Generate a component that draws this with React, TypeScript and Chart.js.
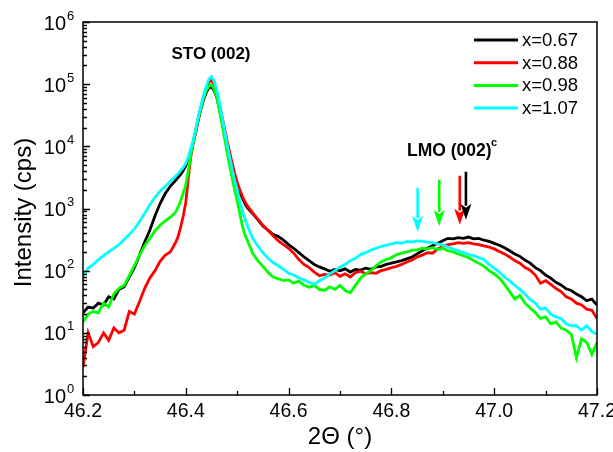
import React, { useEffect, useRef } from "react";
import { Chart, registerables } from "chart.js";

Chart.register(...registerables);

// 2Θ positions (degrees)
const twoTheta = [
  46.2, 46.21, 46.22, 46.23, 46.24, 46.25, 46.26, 46.27, 46.28, 46.29,
  46.3, 46.31, 46.32, 46.33, 46.34, 46.35, 46.36, 46.37, 46.38,
  46.385, 46.39, 46.395, 46.4, 46.405, 46.41, 46.415, 46.42, 46.425, 46.43,
  46.435, 46.44, 46.445, 46.45, 46.455, 46.46, 46.465, 46.47, 46.475, 46.48,
  46.485, 46.49, 46.495, 46.5, 46.505, 46.51, 46.515, 46.52,
  46.53, 46.54, 46.55, 46.56, 46.57, 46.58, 46.59, 46.6, 46.61, 46.62,
  46.63, 46.64, 46.65, 46.66, 46.67, 46.68, 46.69, 46.7, 46.71, 46.72,
  46.73, 46.74, 46.75, 46.76, 46.77, 46.78, 46.79, 46.8, 46.81, 46.82,
  46.83, 46.84, 46.85, 46.86, 46.87, 46.88, 46.89, 46.9, 46.91, 46.92,
  46.93, 46.94, 46.95, 46.96, 46.97, 46.98, 46.99, 47.0, 47.01, 47.02,
  47.03, 47.04, 47.05, 47.06, 47.07, 47.08, 47.09, 47.1, 47.11, 47.12,
  47.13, 47.14, 47.15, 47.16, 47.17, 47.18, 47.19, 47.2,
];

// Intensity (cps), x = 0.67
const series067 = [
  21, 26, 25, 30, 28, 38, 35, 50, 55, 79, 112, 178, 290, 447, 759, 1200, 1740, 2290, 2820,
  3160, 3550, 4070, 4900, 6310, 8910, 12000, 17800, 28200, 41700,
  57500, 74100, 87100, 91200, 79400, 63100, 41700, 26300, 16600, 10500,
  6920, 4790, 3310, 2400, 1820, 1480, 1200, 1020,
  832, 661, 525, 447, 380, 355, 309, 263, 229, 195,
  166, 145, 126, 115, 107, 98, 105, 100, 107, 95,
  105, 102, 110, 105, 115, 117, 126, 132, 138, 145,
  155, 166, 186, 209, 229, 251, 275, 302, 331, 324,
  339, 331, 347, 324, 331, 309, 295, 275, 257, 234,
  209, 186, 170, 148, 132, 112, 100, 85, 76, 65,
  59, 51, 48, 42, 38, 33, 35, 28,
];

// Intensity (cps), x = 0.88
const series088 = [
  2.8, 10, 6, 7, 10, 7.6, 12, 10, 11, 22, 20, 32, 52, 76, 100, 141, 178, 200, 282,
  355, 501, 759, 1260, 3160, 7080, 12000, 19100, 30200, 44700,
  63100, 85100, 107000, 117000, 100000, 75900, 50100, 31600, 20000, 12600,
  8320, 5500, 3720, 2630, 2000, 1590, 1290, 1100,
  851, 676, 537, 447, 363, 302, 263, 229, 191, 151,
  126, 112, 95, 83, 87, 85, 93, 81, 89, 79,
  93, 98, 89, 93, 91, 100, 105, 112, 117, 126,
  138, 148, 166, 178, 195, 191, 224, 245, 263, 269,
  282, 275, 282, 269, 263, 251, 240, 224, 204, 186,
  166, 145, 132, 112, 102, 85, 63, 69, 60, 52,
  46, 38, 35, 30, 28, 24, 23, 17,
];

// Intensity (cps), x = 0.98
const series098 = [
  15, 20, 22, 21, 30, 26, 42, 52, 58, 83, 120, 178, 251, 331, 437, 537, 631, 724, 871,
  1050, 1320, 1780, 2400, 4170, 7590, 12000, 19100, 30200, 43700,
  61700, 79400, 93300, 97700, 83200, 63100, 39800, 24000, 14100, 8320,
  5010, 3160, 2000, 1320, 832, 525, 380, 302,
  191, 145, 117, 93, 79, 74, 69, 71, 63, 68,
  58, 54, 58, 50, 48, 55, 50, 58, 48, 44,
  58, 76, 89, 100, 120, 138, 151, 162, 182, 191,
  200, 214, 214, 229, 224, 234, 219, 229, 209, 200,
  186, 174, 162, 145, 132, 117, 100, 89, 76, 60,
  46, 35, 40, 30, 25, 21, 17, 18, 14, 15,
  12, 11, 9.5, 4, 8, 7, 4.5, 7,
];

// Intensity (cps), x = 1.07
const series107 = [
  83, 110, 126, 151, 174, 200, 229, 263, 316, 380, 468, 617, 832, 1150, 1510, 1900, 2290, 2750, 3310,
  3630, 4070, 4570, 5370, 6760, 9330, 13200, 20000, 31600, 46800,
  67600, 93300, 120000, 132000, 112000, 83200, 52500, 31600, 18600, 11200,
  6920, 4370, 2820, 2000, 1320, 912, 692, 525,
  331, 251, 195, 158, 135, 120, 105, 91, 85, 76,
  71, 65, 60, 69, 76, 89, 100, 115, 126, 145,
  158, 182, 195, 214, 229, 245, 257, 269, 282, 275,
  295, 288, 302, 295, 288, 282, 269, 257, 240, 224,
  209, 195, 182, 174, 162, 151, 126, 110, 95, 79,
  69, 58, 50, 42, 34, 30, 24, 25, 20, 18,
  17, 14, 13, 13, 11, 13, 10.5, 9.5,
];

const seriesLabels = ["x=0.67", "x=0.88", "x=0.98", "x=1.07"];
const seriesColors = ["#000000", "#ff0000", "#00ff00", "#00ffff"];
const seriesValues = [series067, series088, series098, series107];

const xTickValues = [46.2, 46.4, 46.6, 46.8, 47.0, 47.2];
const xTickLabels = ["46.2", "46.4", "46.6", "46.8", "47.0", "47.2"];
const xMinorTicks = [46.3, 46.5, 46.7, 46.9, 47.1];
const yTickExponents = [0, 1, 2, 3, 4, 5, 6];

// LMO (002) peak-position arrows (per series)
const arrowX = [46.945, 46.933, 46.893, 46.851];
const arrowTop = [3900, 3370, 2900, 2150];
const arrowTip = [660, 550, 525, 420];

const FONT = "'Liberation Sans', Arial, sans-serif";

const overlay = {
  id: "overlay",
  afterDatasetsDraw(chart: any) {
    const { ctx, chartArea: a, scales } = chart;
    const sx = scales.x;
    const sy = scales.y;
    ctx.save();

    // arrows
    const order = [3, 2, 1, 0];
    for (const i of order) {
      const x = sx.getPixelForValue(arrowX[i]);
      const yTop = sy.getPixelForValue(arrowTop[i]);
      const yTip = sy.getPixelForValue(arrowTip[i]);
      const headLen = 16;
      const headW = 5.5;
      ctx.strokeStyle = seriesColors[i];
      ctx.fillStyle = seriesColors[i];
      ctx.lineWidth = 2.6;
      ctx.beginPath();
      ctx.moveTo(x, yTop);
      ctx.lineTo(x, yTip - headLen + 2);
      ctx.stroke();
      ctx.beginPath();
      ctx.moveTo(x - headW, yTip - headLen);
      ctx.lineTo(x, yTip - headLen + 4);
      ctx.lineTo(x + headW, yTip - headLen);
      ctx.lineTo(x, yTip);
      ctx.closePath();
      ctx.fill();
    }

    // frame
    ctx.strokeStyle = "#000";
    ctx.lineWidth = 1.5;
    ctx.strokeRect(a.left, a.top, a.right - a.left, a.bottom - a.top);

    // x ticks (inward)
    ctx.lineWidth = 1.3;
    ctx.beginPath();
    for (const v of xTickValues) {
      const px = Math.round(sx.getPixelForValue(v)) + 0.5;
      ctx.moveTo(px, a.bottom);
      ctx.lineTo(px, a.bottom - 7);
    }
    for (const v of xMinorTicks) {
      const px = Math.round(sx.getPixelForValue(v)) + 0.5;
      ctx.moveTo(px, a.bottom);
      ctx.lineTo(px, a.bottom - 4);
    }
    // y ticks (inward)
    for (const e of yTickExponents) {
      const py = Math.round(sy.getPixelForValue(Math.pow(10, e))) + 0.5;
      ctx.moveTo(a.left, py);
      ctx.lineTo(a.left + 7, py);
      if (e < 6) {
        for (let m = 2; m <= 9; m++) {
          const pm = Math.round(sy.getPixelForValue(m * Math.pow(10, e))) + 0.5;
          ctx.moveTo(a.left, pm);
          ctx.lineTo(a.left + 4, pm);
        }
      }
    }
    ctx.stroke();

    // x tick labels
    ctx.fillStyle = "#000";
    ctx.font = `19.5px ${FONT}`;
    ctx.textAlign = "center";
    ctx.textBaseline = "middle";
    xTickValues.forEach((v, i) => {
      ctx.fillText(xTickLabels[i], sx.getPixelForValue(v), a.bottom + 17);
    });

    // y tick labels 10^n
    for (const e of yTickExponents) {
      const py = sy.getPixelForValue(Math.pow(10, e));
      ctx.font = `20px ${FONT}`;
      ctx.textAlign = "right";
      ctx.textBaseline = "middle";
      ctx.fillText("10", a.left - 17, py + 2);
      ctx.font = `13px ${FONT}`;
      ctx.textAlign = "left";
      ctx.fillText(String(e), a.left - 16, py - 6);
    }

    // axis titles
    ctx.font = `24px ${FONT}`;
    ctx.textAlign = "center";
    ctx.textBaseline = "alphabetic";
    ctx.fillText("2\u0398 (\u00b0)", (a.left + a.right) / 2, 444);
    ctx.save();
    ctx.translate(31, (a.top + a.bottom) / 2 + 4);
    ctx.rotate(-Math.PI / 2);
    ctx.fillText("Intensity (cps)", 0, 0);
    ctx.restore();

    // annotations
    ctx.font = `bold 17px ${FONT}`;
    ctx.textAlign = "center";
    ctx.textBaseline = "middle";
    ctx.fillText("STO (002)", 211, 54);
    ctx.textAlign = "left";
    ctx.font = `bold 17.5px ${FONT}`;
    ctx.fillText("LMO (002)", 407, 151);
    ctx.font = `bold 11px ${FONT}`;
    ctx.fillText("c", 491, 143);

    // legend
    ctx.font = `18.5px ${FONT}`;
    ctx.textBaseline = "middle";
    ctx.textAlign = "left";
    const rows = [40, 62.7, 85.4, 108.1];
    seriesLabels.forEach((lab, i) => {
      ctx.strokeStyle = seriesColors[i];
      ctx.lineWidth = 3;
      ctx.beginPath();
      ctx.moveTo(474, rows[i]);
      ctx.lineTo(518, rows[i]);
      ctx.stroke();
      ctx.fillStyle = "#000";
      ctx.fillText(lab, 522, rows[i] + 1);
    });

    ctx.restore();
  },
};

export default function App() {
  const canvasRef = useRef<HTMLCanvasElement | null>(null);

  useEffect(() => {
    document.body.style.margin = "0";
    const canvas = canvasRef.current;
    if (!canvas) return;
    const datasets = seriesValues.map((vals, i) => ({
      label: seriesLabels[i],
      data: twoTheta.map((x, j) => ({ x, y: vals[j] })),
      borderColor: seriesColors[i],
      backgroundColor: seriesColors[i],
      borderWidth: 2.8,
      pointRadius: 0,
      tension: 0,
      fill: false,
      order: 4 - i,
    }));
    const chart = new Chart(canvas, {
      type: "line",
      data: { datasets },
      options: {
        animation: false,
        responsive: false,
        devicePixelRatio: 1,
        layout: { padding: { left: 83, top: 22, right: 16, bottom: 57 } },
        plugins: { legend: { display: false }, tooltip: { enabled: false } },
        scales: {
          x: { type: "linear", min: 46.2, max: 47.2, display: false },
          y: { type: "logarithmic", min: 1, max: 1000000, display: false },
        },
      },
      plugins: [overlay],
    });
    return () => chart.destroy();
  }, []);

  return (
    <div style={{ position: "fixed", left: 0, top: 0, width: 613, height: 452, background: "#fff" }}>
      <canvas ref={canvasRef} width={613} height={452} style={{ width: 613, height: 452 }} />
    </div>
  );
}
